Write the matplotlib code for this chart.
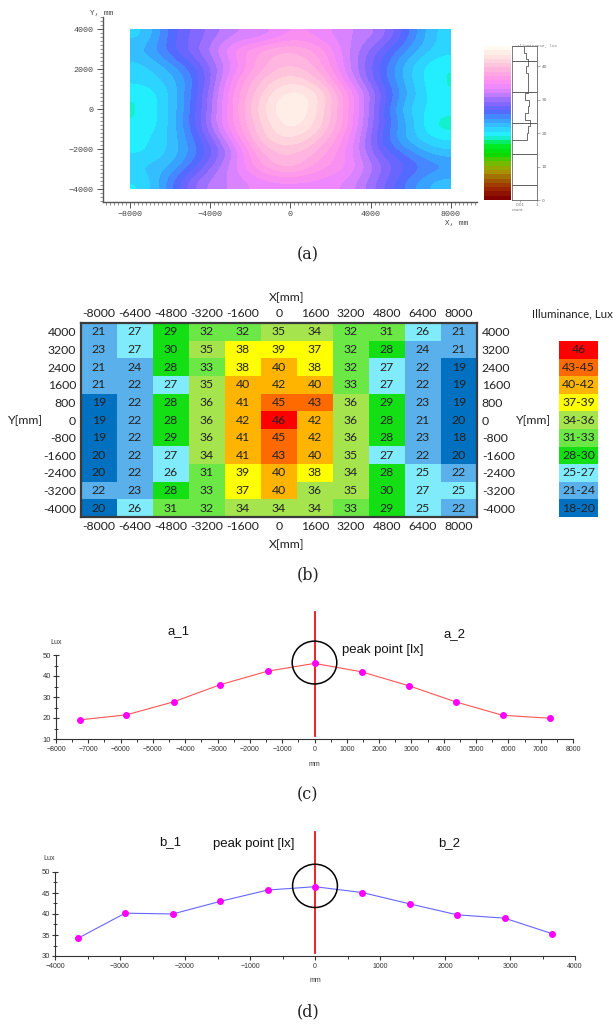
import numpy as np
import matplotlib
matplotlib.use("Agg")
import matplotlib.pyplot as plt
from matplotlib.colors import ListedColormap, LinearSegmentedColormap
from matplotlib.ticker import MultipleLocator
from matplotlib.patches import Ellipse

# ---------------- data ----------------
x_pos = [-8000, -6400, -4800, -3200, -1600, 0, 1600, 3200, 4800, 6400, 8000]
y_pos = [4000, 3200, 2400, 1600, 800, 0, -800, -1600, -2400, -3200, -4000]
lux_grid = [
    [21, 27, 29, 32, 32, 35, 34, 32, 31, 26, 21],
    [23, 27, 30, 35, 38, 39, 37, 32, 28, 24, 21],
    [21, 24, 28, 33, 38, 40, 38, 32, 27, 22, 19],
    [21, 22, 27, 35, 40, 42, 40, 33, 27, 22, 19],
    [19, 22, 28, 36, 41, 45, 43, 36, 29, 23, 19],
    [19, 22, 28, 36, 42, 46, 42, 36, 28, 21, 20],
    [19, 22, 29, 36, 41, 45, 42, 36, 28, 23, 18],
    [20, 22, 27, 34, 41, 43, 40, 35, 27, 22, 20],
    [20, 22, 26, 31, 39, 40, 38, 34, 28, 25, 22],
    [22, 23, 28, 33, 37, 40, 36, 35, 30, 27, 25],
    [20, 26, 31, 32, 34, 34, 34, 33, 29, 25, 22],
]
bin_edges = [21, 25, 28, 31, 34, 37, 40, 43, 46]
bin_labels = ['18-20', '21-24', '25-27', '28-30', '31-33', '34-36',
              '37-39', '40-42', '43-45', '46']
bin_colors = ['#0070c0', '#5ab0ea', '#80ecfb', '#14de14', '#6ce846',
              '#a5e44c', '#ffff00', '#ffb400', '#ff6a00', '#ff0000']

line_a_x = [-7270, -5820, -4360, -2910, -1450, 0, 1455, 2910, 4365, 5820, 7275]
line_a_y = [19.1, 21.5, 27.7, 35.9, 42.3, 46.0, 42.0, 35.4, 27.7, 21.3, 19.9]
line_b_x = [-3650, -2920, -2190, -1460, -730, 0, 730, 1460, 2190, 2920, 3650]
line_b_y = [34.2, 40.2, 40.0, 43.0, 45.7, 46.5, 45.1, 42.4, 39.8, 39.0, 35.3]

# ---------------- figure ----------------
W, H = 616, 1025
fig = plt.figure(figsize=(W / 100, H / 100), dpi=100)
fig.patch.set_facecolor('white')


def rect(l, t, r, b):
    return [l / W, 1 - b / H, (r - l) / W, (b - t) / H]


def ftext(x, y, s, **kw):
    fig.text(x / W, 1 - y / H, s, **kw)


serif = 'DejaVu Serif'
mono = 'Liberation Mono'
sans = 'Liberation Sans'
table_font = 'Lato'
tfs = 8.8

grid = np.array(lux_grid, dtype=float)

# ---------------- (a) simulated illuminance map ----------------
anchors = [
    (0, '#800000'), (3, '#a02800'), (6, '#a06400'), (8, '#a89400'),
    (10, '#84b400'), (12, '#40cc00'), (13.5, '#00dc00'), (16.5, '#00ee30'),
    (18, '#10eebc'), (19.5, '#22f2ff'), (22, '#33c4ff'), (24, '#3a9cff'),
    (26.5, '#5566ff'), (28.5, '#7a66ff'), (30.5, '#a472ff'), (32, '#cc80ff'),
    (34, '#ee88ff'), (36, '#ff92ee'), (38.5, '#ffaae2'), (41, '#ffc8dc'),
    (43, '#ffdfdf'), (45, '#fff0ea'), (46, '#fffaf2')]
vmax = 46.0
cmapA = LinearSegmentedColormap.from_list(
    'illum', [(v / vmax, c) for v, c in anchors]).resampled(36)

axA = fig.add_axes(rect(103.3, 16.7, 477, 201.7))
imA = axA.imshow(grid, cmap=cmapA, vmin=0, vmax=vmax,
                 extent=(x_pos[0], x_pos[-1], y_pos[-1], y_pos[0]),
                 origin='upper', interpolation='bicubic', aspect='auto')
axA.set_xlim(-9330, 9300)
axA.set_ylim(-4620, 4630)
for s in ['top', 'right']:
    axA.spines[s].set_visible(False)
for s in ['left', 'bottom']:
    axA.spines[s].set_color('#555555')
    axA.spines[s].set_linewidth(1.0)
axA.xaxis.set_major_locator(MultipleLocator(4000))
axA.xaxis.set_minor_locator(MultipleLocator(200))
axA.yaxis.set_major_locator(MultipleLocator(2000))
axA.yaxis.set_minor_locator(MultipleLocator(200))
axA.tick_params(which='major', length=4, width=0.7, color='#555555',
                labelsize=6, labelcolor='#444444', pad=3)
axA.tick_params(which='minor', length=2.2, width=0.5, color='#666666')
for lab in axA.get_xticklabels() + axA.get_yticklabels():
    lab.set_family(mono)
ftext(102, 13, 'Y, mm', ha='center', va='center', fontsize=5.5,
      family=mono, color='#444444')
ftext(457, 224, 'X, mm', ha='center', va='center', fontsize=5.5,
      family=mono, color='#444444')

# colour bar
caxA = fig.add_axes(rect(484, 46, 511, 200))
cb = fig.colorbar(imA, cax=caxA)
cb.outline.set_visible(False)
caxA.set_yticks([])

# histogram column
hax = fig.add_axes(rect(512, 46, 537, 200))
vals = grid.ravel()
hax.hist(vals, bins=np.arange(18, 48, 2), weights=np.ones_like(vals) / vals.size,
         orientation='horizontal', histtype='step', color='#555555', lw=0.6)
hax.set_xscale('log')
hax.set_xlim(0.001, 1)
hax.set_ylim(0, vmax)
for f in (0.1, 0.3, 0.5, 0.7, 0.9):
    hax.axhline(vmax * f, color='#444444', lw=0.6)
for s in ['left', 'top', 'bottom', 'right']:
    hax.spines[s].set_color('#666666')
    hax.spines[s].set_linewidth(0.6)
hax.yaxis.tick_right()
hax.yaxis.set_major_locator(MultipleLocator(10))
hax.yaxis.set_minor_locator(MultipleLocator(2))
hax.tick_params(axis='y', which='major', length=2, width=0.4, labelsize=3.2,
                labelcolor='#666666', pad=1.5, color='#777777')
hax.tick_params(axis='y', which='minor', length=1, width=0.3, color='#888888')
hax.set_xticks([0.01, 1])
hax.set_xticklabels(['0.01', '1'])
hax.xaxis.set_minor_locator(plt.NullLocator())
hax.tick_params(axis='x', length=1.5, width=0.4, labelsize=3, labelcolor='#777777',
                pad=1, color='#777777')
hax.set_xlabel('count', fontsize=3, color='#777777', labelpad=0.5, loc='left')
ftext(537, 46, 'Illuminance, lux', ha='center', va='center', fontsize=3,
      color='#777777', family=mono)

ftext(308, 255, '(a)', ha='center', va='center', fontsize=11.5, family=serif,
      color='#222222')

# ---------------- (b) measured table ----------------
idx = np.digitize(grid, bin_edges)
cmapB = ListedColormap(bin_colors)
axB = fig.add_axes(rect(81, 323, 477, 517))
axB.imshow(idx, cmap=cmapB, vmin=-0.5, vmax=len(bin_colors) - 0.5,
           aspect='auto', interpolation='nearest')
for i in range(grid.shape[0]):
    for j in range(grid.shape[1]):
        axB.text(j, i, str(lux_grid[i][j]), ha='center', va='center',
                 fontsize=tfs, family=table_font, color='#222222')
axB.set_xticks(range(len(x_pos)))
axB.set_xticklabels([str(v) for v in x_pos])
axB.set_yticks(range(len(y_pos)))
axB.set_yticklabels([str(v) for v in y_pos])
axB.tick_params(length=0, labelsize=tfs, top=True, labeltop=True, right=True,
                labelright=True, labelcolor='#222222')
axB.tick_params(axis='x', pad=3.2)
axB.tick_params(axis='y', pad=3.5)
for lab in axB.get_xticklabels() + axB.get_yticklabels():
    lab.set_family(table_font)
for s in axB.spines.values():
    s.set_color('#3a3a3a')
    s.set_linewidth(1.6)
ftext(287, 298, 'X[mm]', ha='center', va='center', fontsize=tfs,
      family=table_font, color='#222222')
ftext(287, 545, 'X[mm]', ha='center', va='center', fontsize=tfs,
      family=table_font, color='#222222')
ftext(26, 421, 'Y[mm]', ha='center', va='center', fontsize=tfs,
      family=table_font, color='#222222')
ftext(534, 421, 'Y[mm]', ha='center', va='center', fontsize=tfs,
      family=table_font, color='#222222')
ftext(613, 314, 'Illuminance, Lux', ha='right', va='center', fontsize=8.3,
      family=table_font, color='#222222')

legB = fig.add_axes(rect(559, 341, 598, 517))
leg_idx = np.arange(len(bin_colors))[::-1].reshape(-1, 1)
legB.imshow(leg_idx, cmap=cmapB, vmin=-0.5, vmax=len(bin_colors) - 0.5,
            aspect='auto', interpolation='nearest')
for k, li in enumerate(leg_idx[:, 0]):
    legB.text(0, k, bin_labels[li], ha='center', va='center', fontsize=tfs,
              family=table_font, color='#222222')
legB.set_xticks([])
legB.set_yticks([])
for s in legB.spines.values():
    s.set_visible(False)

ftext(308, 575, '(b)', ha='center', va='center', fontsize=11.5, family=serif,
      color='#222222')


# ---------------- (c), (d) line profiles ----------------
def profile(ax, xs, ys, xlim, ylim, ymajor, yminor, line_color, ell_w, ell_h,
            red_top):
    ax.plot(xs, ys, color=line_color, lw=0.8, marker='o', ms=4,
            mfc='#ff00ff', mec='#ff00ff', zorder=3)
    ax.set_xlim(*xlim)
    ax.set_ylim(*ylim)
    for s in ['top', 'right']:
        ax.spines[s].set_visible(False)
    for s in ['left', 'bottom']:
        ax.spines[s].set_color('#333333')
        ax.spines[s].set_linewidth(0.8)
    ax.xaxis.set_major_locator(MultipleLocator(1000))
    ax.xaxis.set_minor_locator(MultipleLocator(500))
    ax.yaxis.set_major_locator(MultipleLocator(ymajor))
    ax.yaxis.set_minor_locator(MultipleLocator(yminor))
    ax.tick_params(axis='x', which='major', direction='out', length=3, width=0.8,
                   labelsize=5, pad=2, color='#333333', labelcolor='#333333')
    ax.tick_params(axis='x', which='minor', direction='out', length=2, width=0.7,
                   color='#333333')
    ax.tick_params(axis='y', which='major', direction='inout', length=4, width=0.8,
                   labelsize=5.5, pad=1.5, color='#333333', labelcolor='#333333')
    ax.tick_params(axis='y', which='minor', direction='inout', length=3,
                   width=0.7, color='#333333')
    for lab in ax.get_xticklabels() + ax.get_yticklabels():
        lab.set_family(sans)
    k = int(np.argmax(ys))
    px, py = xs[k], ys[k]
    span = ylim[1] - ylim[0]
    ax.axvline(px, ymin=0.04, ymax=(red_top - ylim[0]) / span, color='#ee1111',
               lw=1.3, clip_on=False, zorder=2)
    ax.add_patch(Ellipse((px, py + 0.4 * ymajor / 10), ell_w, ell_h,
                         fill=False, ec='black', lw=1.1, clip_on=False, zorder=4))


axC = fig.add_axes(rect(56, 655, 573, 739))
profile(axC, line_a_x, line_a_y, (-8000, 8000), (10, 50), 10, 5, '#ff5555',
        1380, 20.4, 70.5)
ftext(56, 642, 'Lux', ha='center', va='center', fontsize=5, family=sans,
      color='#333333')
ftext(314, 765, 'mm', ha='center', va='center', fontsize=5, family=sans,
      color='#333333')
ftext(179, 631, 'a_1', ha='center', va='center', fontsize=9.5, family=sans,
      color='#111111')
ftext(455, 634, 'a_2', ha='center', va='center', fontsize=9.5, family=sans,
      color='#111111')
ftext(342, 650, 'peak point [lx]', ha='left', va='center', fontsize=9.5,
      family=sans, color='#111111')
ftext(308, 795, '(c)', ha='center', va='center', fontsize=11.5, family=serif,
      color='#222222')

axD = fig.add_axes(rect(55, 872, 575, 956))
profile(axD, line_b_x, line_b_y, (-4000, 4000), (30, 50), 5, 2.5, '#6666ff',
        690, 10.3, 59.6)
ftext(49, 858, 'Lux', ha='center', va='center', fontsize=5, family=sans,
      color='#333333')
ftext(315, 980, 'mm', ha='center', va='center', fontsize=5, family=sans,
      color='#333333')
ftext(170, 842, 'b_1', ha='center', va='center', fontsize=9.5, family=sans,
      color='#111111')
ftext(254, 844, 'peak point [lx]', ha='center', va='center', fontsize=9.5,
      family=sans, color='#111111')
ftext(449, 843, 'b_2', ha='center', va='center', fontsize=9.5, family=sans,
      color='#111111')
ftext(308, 1012, '(d)', ha='center', va='center', fontsize=11.5, family=serif,
      color='#222222')

fig.savefig('out.png', dpi=100, facecolor='white')
